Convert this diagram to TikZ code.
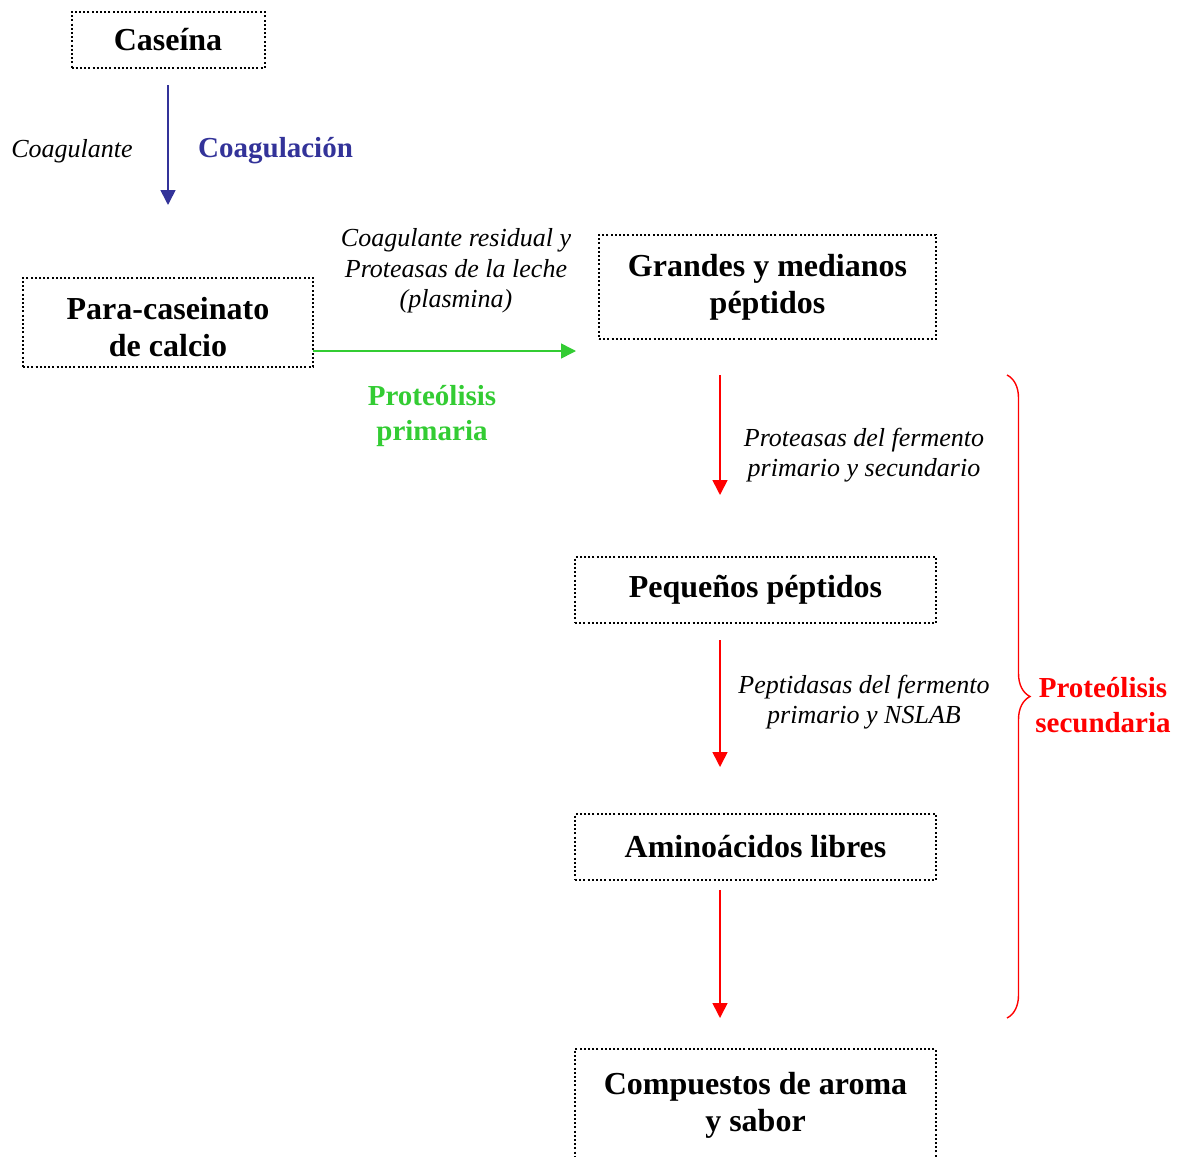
\documentclass[tikz,border=0pt]{standalone}
\usepackage{fontspec}
\setmainfont{Liberation Serif}
\usepackage{xcolor}
\usetikzlibrary{arrows.meta}
\usetikzlibrary{calc}
\usetikzlibrary{decorations.pathreplacing}

\definecolor{coagblue}{RGB}{51,51,153}
\definecolor{protgreen}{RGB}{51,204,51}
\definecolor{protred}{RGB}{255,0,0}

\begin{document}
\begin{tikzpicture}[x=1pt,y=1pt,yscale=-1,
  caja/.style={draw, line width=2pt, dash pattern={on 2pt off 2.2pt}, align=center,
    inner sep=0pt, outer sep=0pt,
    font={\fontsize{32}{37}\selectfont\bfseries}},
  enzima/.style={align=center, inner sep=0pt, font={\fontsize{26}{30.5}\selectfont\itshape}},
  etapa/.style={align=center, inner sep=0pt, font={\fontsize{29}{35}\selectfont\bfseries}},
  flecha/.style={line width=1.6pt, -{Triangle[length=15pt,width=15pt]}}]
\useasboundingbox (0,0) rectangle (1177,1156);

% Boxes
\node [caja, minimum width=193, minimum height=56] (casein) at (168,40) {Caseína};
\node [caja, minimum width=290, minimum height=89] (para) at (168,322.5) {\rule{0pt}{31pt}Para-caseinato\\de calcio};
\node [caja, minimum width=337, minimum height=104] (grandes) at (767.5,287) {Grandes y medianos\\péptidos};
\node [caja, minimum width=361, minimum height=66] (pequenos) at (755.5,590) {Pequeños péptidos};
\node [caja, minimum width=361, minimum height=66] (amino) at (755.5,847) {Aminoácidos libres};
\node [caja, minimum width=361, minimum height=112] (compuestos) at (755.5,1105) {Compuestos de aroma\\y sabor};

% Arrows
\draw [flecha, coagblue, shorten <=17, shorten >=73] (casein) -- (para);
\draw [flecha, protgreen] ($(para.east)+(0,28.5)$) -- ($(grandes.south west)+(-23,12)$);
\draw [flecha, protred] ($(grandes.south)+(-47.5,36)$) -- ($(pequenos.north)+(-35.5,-62)$);
\draw [flecha, protred] ($(pequenos.south)+(-35.5,17)$) -- ($(amino.north)+(-35.5,-47)$);
\draw [flecha, protred] ($(amino.south)+(-35.5,10)$) -- ($(compuestos.north)+(-35.5,-31)$);

% Brace
\draw [protred, line width=1.4pt, decorate, decoration={brace, amplitude=23}] (1007,375) -- (1007,1018);

% Text Node
\node [enzima] (coagulante) at (72,151) {Coagulante};
\node [etapa, coagblue, anchor=west] (coagulacion) at (198,151) {Coagulación};
\node [enzima] (residual) at (456,271) {Coagulante residual y\\Proteasas de la leche\\(plasmina)};
\node [etapa, protgreen] (primaria) at (432,416) {Proteólisis\\primaria};
\node [enzima] (proteasas) at (864,455) {Proteasas del fermento\\primario y secundario};
\node [enzima] (peptidasas) at (864,702) {Peptidasas del fermento\\primario y NSLAB};
\node [etapa, protred] (secundaria) at (1103,705) {Proteólisis\\secundaria};

\end{tikzpicture}
\end{document}
